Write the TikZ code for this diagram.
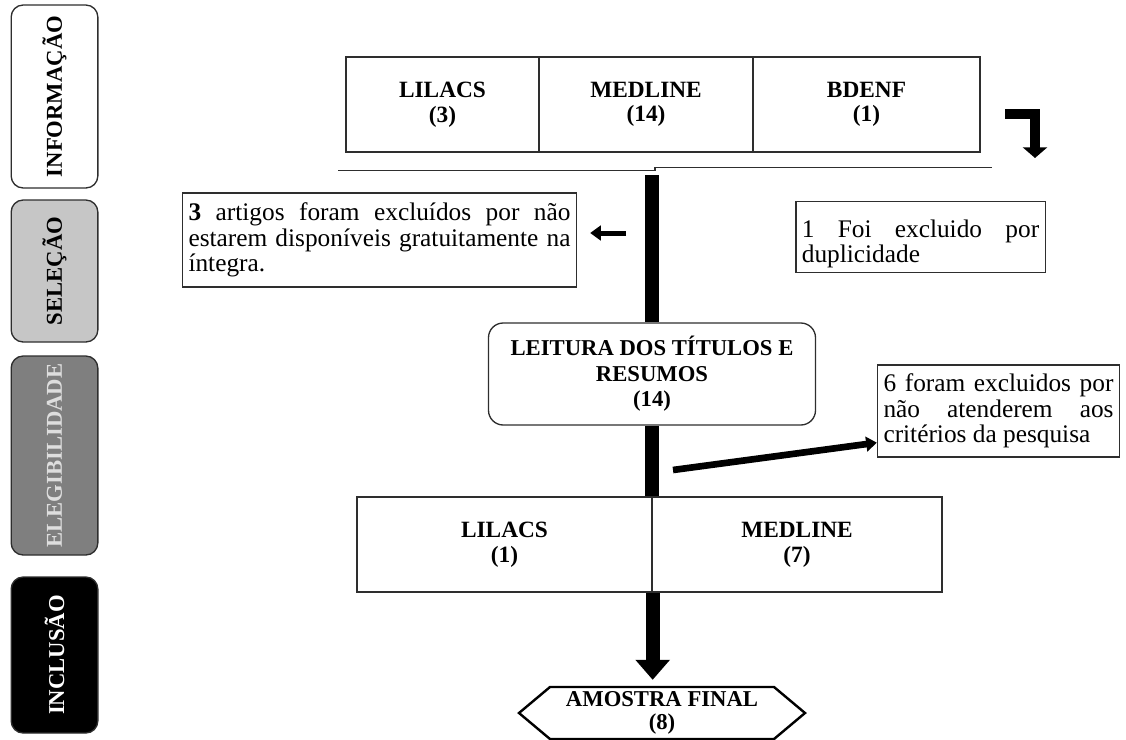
\documentclass[tikz,border=0pt]{standalone}
\usepackage{fontspec}
\setmainfont{Liberation Serif}
\usetikzlibrary{arrows.meta,shapes.symbols}
\definecolor{selgray}{HTML}{C6C6C6}
\definecolor{elegray}{HTML}{7F7F7F}
\definecolor{elefont}{HTML}{DEDEDE}
\definecolor{edge}{HTML}{2E2E2E}
\hyphenpenalty=10000
\exhyphenpenalty=10000

\begin{document}
\begin{tikzpicture}[x=0.75pt,y=-0.75pt,line join=miter,
	phase/.style={draw=edge,line width=1pt,rounded corners=9pt,rotate=90,
		minimum height=65pt,font=\bfseries\fontsize{17}{19}\selectfont},
	base/.style={draw=edge,line width=1pt,align=center,minimum height=71.25pt,
		font=\bfseries\fontsize{17.5}{18.5}\selectfont},
	note/.style={draw=edge,line width=1pt,align=justify,inner xsep=4.5pt,
		font=\fontsize{19}{19}\selectfont},
	bar/.style={line width=10.5pt},
	fat/.style={-{Triangle[length=15pt,width=25pt]}},
	slim/.style={-{Triangle[length=8pt,width=11pt]}}]
	\useasboundingbox (0,0) rectangle (1126,739);

	% fases
	\node [phase,fill=white,minimum width=137.25pt] (info) at (54.5,96.5) {INFORMAÇÃO};
	\node [phase,fill=selgray,minimum width=106.5pt] (selec) at (54.5,271) {SELEÇÃO};
	\node [phase,fill=elegray,text=elefont,minimum width=149.25pt] (eleg) at (54.5,455.5) {ELEGIBILIDADE};
	\node [phase,fill=black,text=white,minimum width=117pt] (incl) at (54.5,655) {INCLUSÃO};

	% bases
	\node [base,minimum width=144.75pt] (lilacsA) at (442.5,104.5) {LILACS\\(3)};
	\node [base,minimum width=160.5pt] (medlineA) at (646,104.5) {MEDLINE\\(14)};
	\node [base,minimum width=170.25pt] (bdenf) at (866.5,104.5) {BDENF\\(1)};

	\draw [edge,line width=0.8pt] (338,170.5) -- (655,170.5) -- (655,167.5) -- (992,167.5);
	\coordinate (bent) at (1005,114);
	\draw [line width=7pt,-{Triangle[length=8pt,width=18pt]}] (bent) -- (1035,114) -- (1035,158);

	% exclusoes
	\node [note,text width=286.5pt,minimum height=70.5pt] (artigos) at (379.5,240)
		{\textbf{3} artigos foram excluídos por não estarem disponíveis gratuitamente na íntegra.};
	\node [note,text width=178pt,minimum height=52.5pt] (dupl) at (920.5,237)
		{\rule{0pt}{24pt}1 Foi excluido por duplicidade};

	\node [draw=edge,line width=1pt,rounded corners=11pt,align=center,
		minimum width=245.25pt,minimum height=76.5pt,
		font=\bfseries\fontsize{17}{19}\selectfont] (leit) at (652,374)
		{LEITURA DOS TÍTULOS E\\RESUMOS\\(14)};

	\node [note,text width=172.5pt,minimum height=69pt] (crit) at (998.5,411)
		{6 foram excluidos por não atenderem aos critérios da pesquisa};

	\node [base,minimum width=221.25pt] (lilacsB) at (504.5,544.5) {LILACS\\(1)};
	\node [base,minimum width=217.5pt] (medlineB) at (797,544.5) {MEDLINE\\(7)};

	\node [signal,signal to=west and east,signal pointer angle=80,draw,line width=1.8pt,
		minimum width=214.5pt,minimum height=39pt,inner sep=0pt,align=center,
		font=\bfseries\fontsize{17}{17}\selectfont] (final) at (662,713) {AMOSTRA FINAL\\(8)};

	% fluxo
	\coordinate (split) at (652,175);
	\draw [bar] (split) -- (split |- leit.north);
	\draw [bar] (leit.south) -- (leit.south |- lilacsB.north);
	\draw [bar,fat,shorten >=4.5pt] (lilacsB.south east) -- (lilacsB.south east |- final.north);

	\coordinate (left) at (626,233);
	\draw [line width=3.75pt,slim,shorten >=9.75pt] (left) -- (left -| artigos.east);
	\coordinate (diag) at (673,470);
	\draw [line width=5pt,slim] (diag) -- ([yshift=11.25pt]crit.south west);

\end{tikzpicture}
\end{document}
